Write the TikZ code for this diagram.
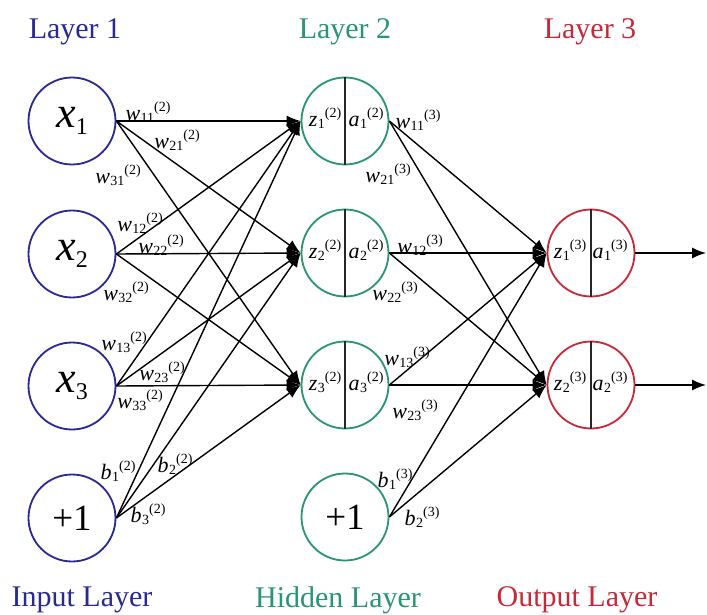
\documentclass[tikz,border=0pt]{standalone}
\usepackage{fontspec}
\setmainfont{Liberation Serif}
\usetikzlibrary{arrows.meta}
\definecolor{cblue}{RGB}{40,40,150}
\definecolor{cgreen}{RGB}{40,150,110}
\definecolor{cred}{RGB}{200,40,55}
\newcommand\scr{\fontsize{14}{14}\selectfont}
\newcommand\lw[3]{\textit{#1}\kern0.5pt\raisebox{-2.5pt}{\scr #2}\raisebox{9pt}{\scr(#3)}}
\newcommand\xlab[1]{\fontsize{44}{44}\selectfont\textit{x}\raisebox{-7pt}{\fontsize{24}{24}\selectfont #1}}
\begin{document}
\begin{tikzpicture}[x=1pt,y=-1pt,
 neuron/.style={circle,draw,line width=1.8pt,minimum size=87pt,inner sep=0pt},
 conn/.style={line width=1.4pt,-{Latex[length=14pt,width=11pt]}},
 divider/.style={line width=1.3pt,black!85},
 wl/.style={font=\fontsize{22}{22}\selectfont,inner sep=0pt},
 plusone/.style={font=\fontsize{37}{37}\selectfont},
 title/.style={font=\fontsize{30}{30}\selectfont,inner sep=0pt}]
\useasboundingbox (0,0) rectangle (707,615);
\fill[white] (0,0) rectangle (707,615);

% titles
\node[title,text=cblue] (t1) at (75,32) {Layer 1};
\node[title,text=cgreen] (t2) at (345,32) {Layer 2};
\node[title,text=cred] (t3) at (590,32) {Layer 3};
\node[title,text=cblue] (f1) at (82,600) {Input Layer};
\node[title,text=cgreen] (f2) at (338,600) {Hidden Layer};
\node[title,text=cred] (f3) at (577,600) {Output Layer};

% input layer
\node[neuron,draw=cblue] (x1) at (72,121) {\xlab{1}};
\node[neuron,draw=cblue] (x2) at (72,254) {\xlab{2}};
\node[neuron,draw=cblue] (x3) at (72,386) {\xlab{3}};
\node[neuron,draw=cblue,plusone] (b1) at (72,518) {+1};

% hidden layer
\foreach \n/\y in {1/121,2/253,3/385}{
  \node[neuron,draw=cgreen] (h\n) at (345,\y) {};
  \draw[divider] (h\n.north) -- (h\n.south);
  \node[wl] (hz\n) at (325,\y-3) {\lw{z}{\n}{2}};
  \node[wl] (ha\n) at (366,\y-3) {\lw{a}{\n}{2}};
}
\node[neuron,draw=cgreen,plusone] (b2) at (345,517) {+1};

% output layer
\foreach \n/\y in {1/253,2/385}{
  \node[neuron,draw=cred] (o\n) at (591,\y) {};
  \draw[divider] (o\n.north) -- (o\n.south);
  \node[wl] (oz\n) at (570,\y-3) {\lw{z}{\n}{3}};
  \node[wl] (oa\n) at (610,\y-3) {\lw{a}{\n}{3}};
}

% connections
\foreach \i in {x1,x2,x3,b1}
  \foreach \j in {h1,h2,h3}
    \draw[conn] (\i.east) -- (\j.west);
\foreach \i in {h1,h2,h3,b2}
  \foreach \j in {o1,o2}
    \draw[conn] (\i.east) -- (\j.west);
\coordinate (y1) at (706,253);
\coordinate (y2) at (706,385);
\draw[conn] (o1.east) -- (y1);
\draw[conn] (o2.east) -- (y2);

% weight labels layer 1 -> 2
\node[wl] (w11) at (148,112) {\lw{w}{11}{2}};
\node[wl] (w21) at (177,140) {\lw{w}{21}{2}};
\node[wl] (w31) at (118,175) {\lw{w}{31}{2}};
\node[wl] (w12) at (140,223) {\lw{w}{12}{2}};
\node[wl] (w22) at (161,245) {\lw{w}{22}{2}};
\node[wl] (w32) at (126,292) {\lw{w}{32}{2}};
\node[wl] (w13) at (124,342) {\lw{w}{13}{2}};
\node[wl] (w23) at (162,372) {\lw{w}{23}{2}};
\node[wl] (w33) at (140,400) {\lw{w}{33}{2}};
\node[wl] (bb1) at (118,471) {\lw{b}{1}{2}};
\node[wl] (bb2) at (175,464) {\lw{b}{2}{2}};
\node[wl] (bb3) at (148,514) {\lw{b}{3}{2}};

% weight labels layer 2 -> 3
\node[wl] (v11) at (418,120) {\lw{w}{11}{3}};
\node[wl] (v21) at (388,174) {\lw{w}{21}{3}};
\node[wl] (v12) at (420,245) {\lw{w}{12}{3}};
\node[wl] (v22) at (395,292) {\lw{w}{22}{3}};
\node[wl] (v13) at (407,357) {\lw{w}{13}{3}};
\node[wl] (v23) at (415,410) {\lw{w}{23}{3}};
\node[wl] (cb1) at (395,479) {\lw{b}{1}{3}};
\node[wl] (cb2) at (422,517) {\lw{b}{2}{3}};
\end{tikzpicture}
\end{document}
